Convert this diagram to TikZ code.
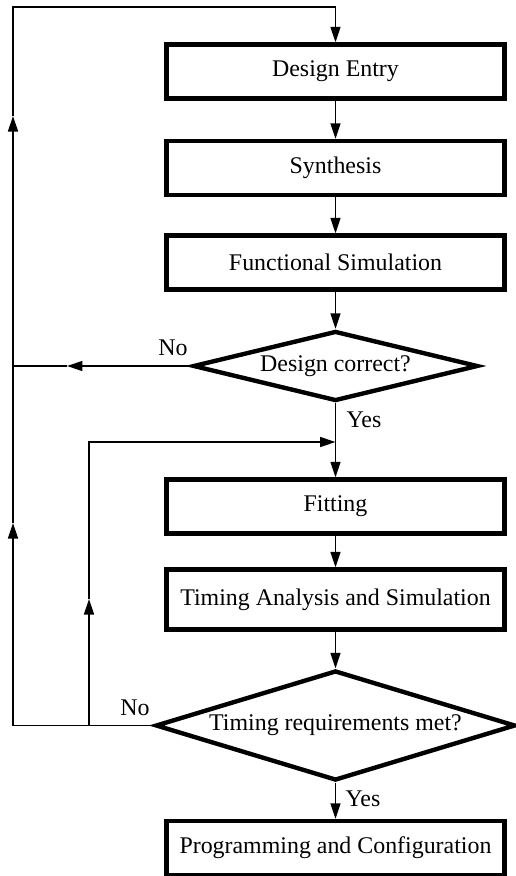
\documentclass[tikz,border=0pt]{standalone}
\usepackage{fontspec}
\setmainfont{Liberation Serif}
\usetikzlibrary{arrows.meta,shapes.geometric}

\tikzset{
  stepbox/.style={draw, line width=2.5pt, minimum width=6.76cm, minimum height=1.08cm,
                  inner sep=0pt, font=\fontsize{13.6}{16}\selectfont},
  testbox/.style={draw, diamond, line width=2.5pt, inner sep=0pt,
                  font=\fontsize{13.6}{16}\selectfont},
  tag/.style={inner sep=0pt, font=\fontsize{13.6}{16}\selectfont},
  wire/.style={line width=0.8pt},
  flow/.style={wire, -{Triangle[length=3.1mm,width=2mm]}}
}

\begin{document}
\begin{tikzpicture}[x=0.02cm, y=-0.02cm]
\useasboundingbox (0,0) rectangle (515,876);
\node[stepbox] (entry)   at (335.5,71.5)  {Design Entry};
\node[stepbox] (synth)   at (335.5,168)   {Synthesis};
\node[stepbox] (funcsim) at (335.5,262.5) {Functional Simulation};
\node[testbox, minimum width=5.7cm, minimum height=1.4cm, aspect=4] (correct) at (335.5,366) {Design correct?};
\node[stepbox] (fit)     at (335.5,506.5) {Fitting};
\node[stepbox, minimum height=1.2cm] (timing) at (335.5,599.5) {Timing Analysis and Simulation};
\node[testbox, minimum width=7.2cm, minimum height=2.2cm, aspect=3.2] (met) at (335.5,725.5) {Timing requirements met?};
\node[stepbox] (prog)    at (335.5,848)   {Programming and Configuration};
\node[tag] (no1)  at (173,348) {No};
\node[tag] (yes1) at (364,420) {Yes};
\node[tag] (no2)  at (135,708) {No};
\node[tag] (yes2) at (363,799) {Yes};
% loop points
\coordinate (topleft)  at (13,7);
\coordinate (topright) at (335.5,7);
\coordinate (botleft)  at (13,725.5);
\coordinate (up1)      at (13,523);
\coordinate (up2)      at (13,116);
\coordinate (noleft)   at (13,366);
\coordinate (nomid)    at (67,366);
\coordinate (inbot)    at (89,725.5);
\coordinate (inup)     at (89,599);
\coordinate (intop)    at (89,442);
\coordinate (join)     at (335.5,442);
% main column
\draw[flow] (entry) -- (synth);
\draw[flow] (synth) -- (funcsim);
\draw[flow] (funcsim) -- (correct);
\draw[flow] (correct) -- (fit);
\draw[flow] (fit) -- (timing);
\draw[flow] (timing) -- (met);
\draw[flow] (met) -- (prog);
% back loops
\draw[flow] (correct.west) -- (nomid);
\draw[wire] (nomid) -- (noleft);
\draw[flow] (met.west) -- (botleft) -- (up1);
\draw[flow] (up1) -- (up2);
\draw[flow] (up2) -- (topleft) -- (topright) -- (entry);
\draw[flow] (inbot) -- (inup);
\draw[flow] (inup) -- (intop) -- (join);
\end{tikzpicture}
\end{document}
